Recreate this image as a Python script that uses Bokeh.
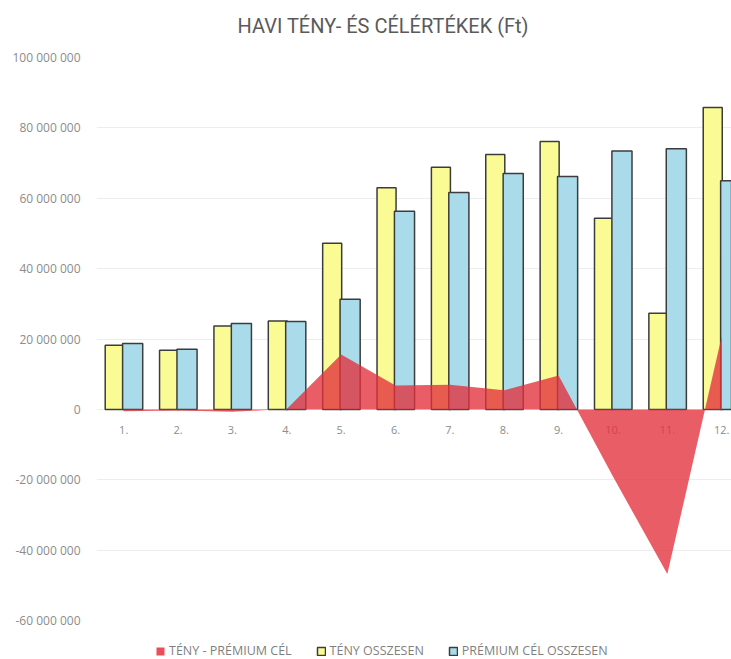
from bokeh.plotting import figure
from bokeh.layouts import column
from bokeh.models import Range1d, Legend, LegendItem, FixedTicker, ColumnDataSource, Label
from bokeh.transform import dodge
from bokeh.core.properties import value
from bokeh.embed import file_html
from bokeh.resources import INLINE

# ---- data ----
months = [1, 2, 3, 4, 5, 6, 7, 8, 9, 10, 11, 12]
month_labels = ["1.", "2.", "3.", "4.", "5.", "6.", "7.", "8.", "9.", "10.", "11.", "12."]
teny_osszesen = [18.2e6, 16.8e6, 23.7e6, 25.1e6, 47.2e6, 63.0e6, 68.8e6, 72.4e6, 76.1e6, 54.3e6, 27.3e6, 85.8e6]
premium_cel = [18.7e6, 17.1e6, 24.4e6, 25.0e6, 31.3e6, 56.3e6, 61.6e6, 67.0e6, 66.2e6, 73.4e6, 74.1e6, 65.0e6]
teny_minus_cel = [-0.5e6, -0.3e6, -0.7e6, 0.1e6, 15.6e6, 6.8e6, 7.0e6, 5.4e6, 9.6e6, -19.1e6, -46.8e6, 20.8e6]
zero_line = [0] * 12
tick_values = [-60e6, -40e6, -20e6, 0, 20e6, 40e6, 60e6, 80e6, 100e6]
tick_labels = ["-60 000 000", "-40 000 000", "-20 000 000", "0", "20 000 000",
               "40 000 000", "60 000 000", "80 000 000", "100 000 000"]
series_names = ["TÉNY - PRÉMIUM CÉL", "TÉNY OSSZESEN", "PRÉMIUM CÉL OSSZESEN"]
title_text = "HAVI TÉNY- ÉS CÉLÉRTÉKEK (Ft)"

RED, YELLOW, BLUE, OUTLINE = "#e3303c", "#fbfb95", "#a9dbea", "#3c3c3c"

src = ColumnDataSource(dict(month=months, label=month_labels, teny=teny_osszesen,
                            cel=premium_cel, diff=teny_minus_cel, zero=zero_line))


def strip(height):
    # title / key strip without axes
    f = figure(width=731, height=height, output_backend="svg", toolbar_location=None,
               x_range=Range1d(-30, -20), y_range=Range1d(-2e9, -1e9),
               min_border_left=96, min_border_right=0, min_border_top=0, min_border_bottom=0)
    f.axis.visible = False
    f.grid.visible = False
    f.outline_line_color = None
    return f


# ---- title strip ----
top = strip(40)
top.add_layout(Label(x=141, y=15, x_units="screen", y_units="screen", text=title_text,
                     text_font="Roboto", text_font_size="20px", text_color="#5a5a5a",
                     text_align="left", text_baseline="middle"))

# ---- main chart ----
p = figure(width=731, height=591, output_backend="svg", toolbar_location=None,
           x_range=Range1d(0.5, 12.18), y_range=Range1d(-60e6, 100e6),
           min_border_left=96, min_border_right=0, min_border_top=17, min_border_bottom=11,
           title=None)
p.outline_line_color = None
p.background_fill_color = "white"
p.border_fill_color = "white"

p.xaxis.visible = False
p.xgrid.visible = False
p.yaxis.ticker = FixedTicker(ticks=tick_values)
p.yaxis.major_label_overrides = {v: l for v, l in zip(tick_values, tick_labels)}
p.yaxis.axis_line_color = None
p.yaxis.major_tick_line_color = None
p.yaxis.minor_tick_line_color = None
p.yaxis.major_tick_out = 0
p.yaxis.major_tick_in = 0
p.yaxis.major_label_standoff = 16
p.yaxis.major_label_text_color = "#8c8c8c"
p.yaxis.major_label_text_font = "Open Sans"
p.yaxis.major_label_text_font_size = "12px"
p.ygrid.ticker = FixedTicker(ticks=tick_values)
p.ygrid.grid_line_color = "#ededed"

# month labels (under the area)
p.text(x="month", y="zero", text="label", source=src, y_offset=21,
       text_align="center", text_baseline="middle", text_color="#8c8c8c",
       text_font=value("Open Sans"), text_font_size="11px")

p.vbar(x=dodge("month", -0.165, range=p.x_range), top="teny", bottom=0, width=0.35,
       source=src, fill_color=YELLOW, line_color=OUTLINE, line_width=1.5)
p.vbar(x=dodge("month", 0.165, range=p.x_range), top="cel", bottom=0, width=0.37,
       source=src, fill_color=BLUE, line_color=OUTLINE, line_width=1.5)
p.varea(x="month", y1="zero", y2="diff", source=src, fill_color=RED, fill_alpha=0.78)

# ---- legend strip (same series as hidden renderers, used only for the key) ----
lg = strip(28)
k_diff = lg.varea(x="month", y1="zero", y2="diff", source=src, fill_color=RED, fill_alpha=0.85)
k_teny = lg.vbar(x="month", top="teny", width=0.35, source=src, fill_color=YELLOW,
                 line_color=OUTLINE, line_width=1.5)
k_cel = lg.vbar(x="month", top="cel", width=0.35, source=src, fill_color=BLUE,
                line_color=OUTLINE, line_width=1.5)
for r in (k_diff, k_teny, k_cel):
    r.visible = False
legend = Legend(items=[LegendItem(label=series_names[0], renderers=[k_diff]),
                       LegendItem(label=series_names[1], renderers=[k_teny]),
                       LegendItem(label=series_names[2], renderers=[k_cel])],
                location=(59, 0), orientation="horizontal", click_policy="none",
                label_text_font="Open Sans", label_text_font_size="12.5px", label_text_color="#7f7f7f",
                glyph_width=10, glyph_height=10, label_height=12, label_standoff=4,
                spacing=24, padding=0, margin=0,
                border_line_color=None, background_fill_alpha=0)
lg.add_layout(legend, "center")

layout = column(top, p, lg, spacing=0)
open("out.html", "w").write(file_html(layout, INLINE))
